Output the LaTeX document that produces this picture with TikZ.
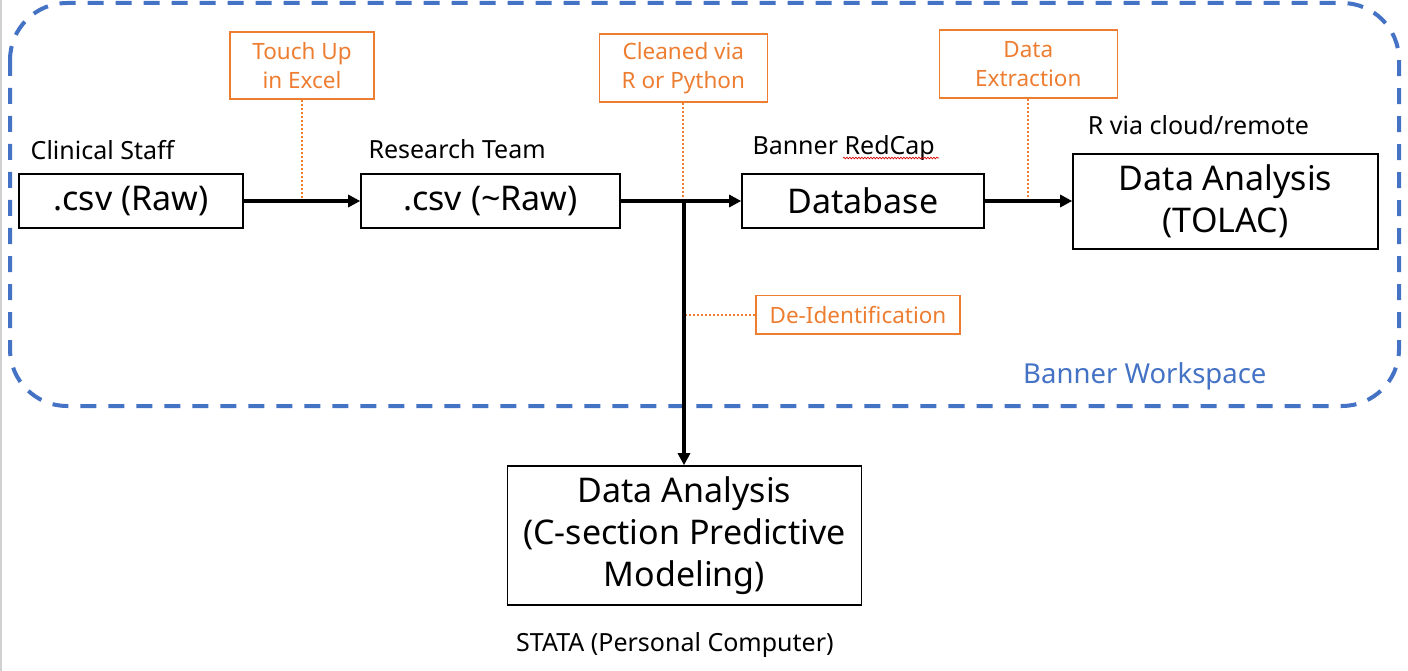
\documentclass[tikz,border=0pt]{standalone}
\usepackage{fontspec}
\setmainfont{Noto Sans}
\usetikzlibrary{arrows.meta,decorations.pathmorphing}
\definecolor{orng}{HTML}{ED7D31}
\definecolor{bluew}{HTML}{4472C4}
\tikzset{
  mainbox/.style={draw=black, line width=1.6pt, inner sep=0pt, align=center,
    font=\fontsize{34}{42}\selectfont},
  notebox/.style={draw=orng, line width=1.5pt, inner sep=0pt, align=center,
    text=orng, font=\fontsize{22.5}{29}\selectfont},
  lbl/.style={inner sep=0pt, anchor=base west, font=\fontsize{25}{30}\selectfont},
  flow/.style={line width=4pt, -{Triangle[length=12pt,width=12pt]}},
  note/.style={draw=orng, line width=2pt, dash pattern=on 2pt off 2pt},
  region/.style={draw=bluew, line width=4pt, dash pattern=on 16pt off 12pt, rounded corners=57pt}
}
\begin{document}
\begin{tikzpicture}[x=1pt,y=-1pt]
\useasboundingbox (0,0) rectangle (1408,671);
\draw[black!18, line width=1.5pt] (0.75,0) -- (0.75,671);
% workspace region
\draw[region] (10,3) rectangle (1399,406);
\node[inner sep=0pt, anchor=base west, text=bluew, font=\fontsize{27.5}{32}\selectfont] (ws) at (1023,383) {Banner Workspace};
% main boxes
\node[mainbox, minimum width=224pt, minimum height=54pt] (raw) at (131,201) {.csv (Raw)};
\node[mainbox, minimum width=259pt, minimum height=54pt] (nraw) at (490.5,201) {.csv (\textasciitilde Raw)};
\node[mainbox, minimum width=242pt, minimum height=54pt] (db) at (863,201) {Database};
\node[mainbox, minimum width=305pt, minimum height=95pt] (tolac) at (1225.5,201.5) {Data Analysis\\(TOLAC)};
\node[mainbox, minimum width=354pt, minimum height=139pt] (csec) at (684.5,535.5) {Data Analysis\\(C-section Predictive\\Modeling)};
% labels
\node[lbl] (l1) at (30.5,159.3) {Clinical Staff};
\node[lbl] (l2) at (368.3,158.3) {Research Team};
\node[lbl] (l3) at (752.3,154.3) {Banner RedCap};
\node[lbl] (l4) at (1087.7,134.3) {R via cloud/remote};
\node[lbl] (l5) at (516,651) {STATA (Personal Computer)};
\draw[red!85!black, line width=0.7pt, decorate, decoration={snake, segment length=3pt, amplitude=0.8pt}] (843,158) -- (939,158);
% note boxes
\node[notebox, minimum width=144pt, minimum height=67pt] (touch) at (302,65.5) {Touch Up\\in Excel};
\node[notebox, minimum width=168pt, minimum height=68pt] (clean) at (683.3,68) {Cleaned via\\R or Python};
\node[notebox, minimum width=178pt, minimum height=68pt] (extr) at (1028.3,64) {Data\\Extraction};
\node[notebox, minimum width=204pt, minimum height=38.5pt] (deid) at (858,314.7) {De-Identification};
% junction
\coordinate (j) at (684,201);
% dotted note connectors
\draw[note] (touch.south) -- (touch.south |- raw.east);
\draw[note] (clean.south) -- (clean.south |- j);
\draw[note] (extr.south) -- (extr.south |- db.east);
\draw[note] (deid.west) -- (deid.west -| j);
% flow arrows
\draw[flow] (raw.east) -- (nraw.west);
\draw[flow] (nraw.east) -- (db.west);
\draw[flow] (db.east) -- (db.east -| tolac.west);
\draw[flow] (j) -- (j |- csec.north);
\end{tikzpicture}
\end{document}
